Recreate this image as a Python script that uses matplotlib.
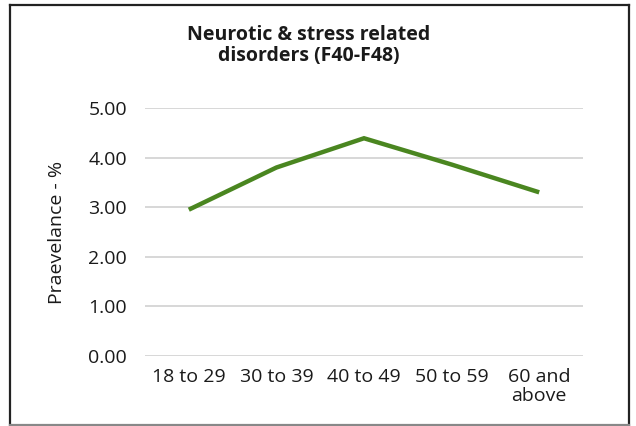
import matplotlib.pyplot as plt
from matplotlib.lines import Line2D

# age groups and prevalence (%)
age_groups = ['18 to 29', '30 to 39', '40 to 49', '50 to 59', '60 and\nabove']
prevalence = [2.95, 3.80, 4.39, 3.86, 3.30]
y_ticks = [0, 1, 2, 3, 4, 5]

plt.rcParams['font.family'] = ['Open Sans', 'DejaVu Sans']

W, H = 636, 426
fig = plt.figure(figsize=(W / 100, H / 100), dpi=100)
ax = fig.add_axes([145 / W, 1 - 356 / H, 438 / W, 248 / H])

x = list(range(len(age_groups)))
ax.plot(x, prevalence, color='#4a8620', linewidth=3.2, solid_joinstyle='miter',
        solid_capstyle='butt', zorder=3)

ax.set_xlim(-0.5, len(age_groups) - 0.5)
ax.set_ylim(0, 5)
ax.set_yticks(y_ticks)
ax.set_yticklabels([f'{v:.2f}' for v in y_ticks], fontsize=14)
ax.set_xticks(x)
ax.set_xticklabels(age_groups, fontsize=14, linespacing=1.05)
ax.tick_params(length=0, colors='#1a1a1a')
ax.tick_params(axis='x', pad=9)
ax.tick_params(axis='y', pad=13)

ax.grid(axis='y', color='#d4d4d4', linewidth=1.3)
ax.set_axisbelow(True)
for s in ax.spines.values():
    s.set_visible(False)

ax.set_ylabel('Praevelance - %', fontsize=14, labelpad=16, color='#1a1a1a')

fig.text(309 / W, 1 - 45.5 / H, 'Neurotic & stress related\ndisorders (F40-F48)',
         ha='center', va='center', fontsize=14, fontweight='bold',
         linespacing=1.08, color='#1a1a1a')

# outer frame of the chart
l, r, t, b = 9.5 / W, 629 / W, 1 - 5 / H, 1 - 425.3 / H
for xs, ys, c in [([l, l], [b, t], '#222222'), ([l, r], [t, t], '#222222'),
                  ([r, r], [b, t], '#222222'), ([l, r], [b, b], '#888888')]:
    fig.add_artist(Line2D(xs, ys, transform=fig.transFigure, color=c, linewidth=1.6))

fig.savefig('out.png', dpi=100)
